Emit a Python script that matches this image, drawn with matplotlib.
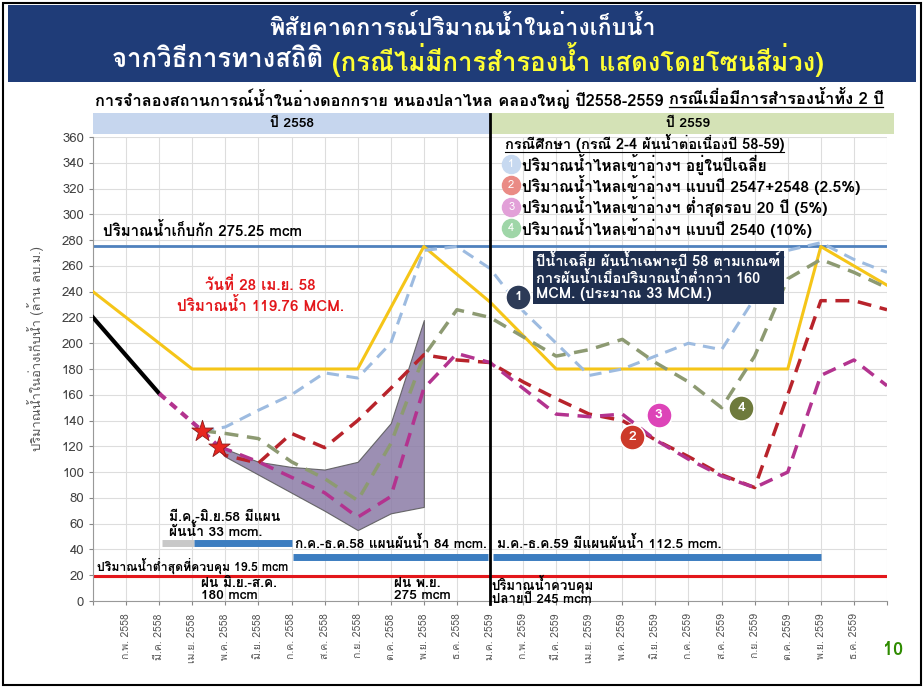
import matplotlib.pyplot as plt
from matplotlib import font_manager, ft2font
from matplotlib.patches import Rectangle
import numpy as np

# pick a font that has Thai glyphs, if any is installed
thai_font = None
for f in font_manager.fontManager.ttflist:
    try:
        if ft2font.FT2Font(f.fname).get_char_index(0x0E01):
            thai_font = f.name
            break
    except Exception:
        pass
fams = ([thai_font] if thai_font else []) + ['DejaVu Sans']
plt.rcParams['font.family'] = fams

# ---- data ----
months = ['ม.ค.', 'ก.พ.', 'มี.ค.', 'เม.ย.', 'พ.ค.', 'มิ.ย.', 'ก.ค.', 'ส.ค.', 'ก.ย.', 'ต.ค.', 'พ.ย.', 'ธ.ค.']
tick_labels = [''] + [m + ' 2558' for m in months[1:]] + [m + ' 2559' for m in months] + ['']

obs_x = [0, 2]
obs_y = [220, 161]
obs_dash_x = [2, 3.3, 3.8]
obs_dash_y = [161, 132, 119.76]

rule_x = [0, 3, 8, 10, 12, 14, 20, 21, 22, 24]
rule_y = [240, 180, 180, 275, 232, 180, 180, 180, 275, 245]

s1_x = [3.3, 4, 5, 6, 7, 8, 9, 10, 11, 12, 13, 14, 15, 16, 17, 18, 19, 20, 21, 22, 23, 24]
s1_y = [132, 135, 148, 160, 177, 173, 200, 272, 275, 258, 225, 200, 175, 180, 190, 200, 195, 235, 272, 278, 265, 255]

s2_x = [3.8, 4, 5, 6, 7, 8, 9, 10, 11, 12, 13, 14, 15, 16, 17, 18, 19, 20, 21, 22, 23, 24]
s2_y = [119.76, 113, 107, 130, 119, 140, 165, 191, 187, 185, 170, 157, 145, 140, 125, 112, 98, 88, 160, 233, 233, 226]

s3_x = [3.8, 4, 5, 6, 7, 8, 9, 10, 11, 12, 13, 14, 15, 16, 17, 18, 19, 20, 21, 22, 23, 24]
s3_y = [119.76, 118, 108, 96, 84, 65, 81, 165, 192, 185, 165, 145, 143, 145, 125, 110, 97, 88, 100, 175, 187, 167]

s4_x = [3.3, 4, 5, 6, 7, 8, 9, 10, 11, 12, 13, 14, 15, 16, 17, 18, 19, 20, 21, 22, 23, 24]
s4_y = [132, 130, 126, 108, 95, 78, 122, 190, 226, 220, 205, 190, 195, 203, 185, 170, 150, 190, 250, 265, 255, 243]

band_x = [3.8, 4, 5, 6, 7, 8, 9, 10]
band_hi = [120, 118, 108, 104, 102, 108, 138, 218]
band_lo = [120, 112, 98, 84, 70, 55, 68, 73]

star_x = [3.3, 3.8]
star_y = [132, 119.76]

storage_cap = 275.25
min_storage = 19.5

# release plans: (start, end, level)
plans = [(3.05, 6.0, 45), (6.05, 11.95, 34), (12.1, 22.0, 34)]
plan_gray = (2.1, 3.05, 45)

fig = plt.figure(figsize=(9.24, 6.88), dpi=100)
W, H = 924, 688

def fx(px):
    return px / W

def fy(py):
    return 1 - py / H

renderer = fig.canvas.get_renderer()

def centered_pair(y, left, right, c1, c2, size, cx=0.5, underline_right=False):
    # put two differently coloured texts side by side, centred together
    t1 = fig.text(0, y, left, color=c1, fontsize=size, fontweight='bold', ha='left', va='center')
    t2 = fig.text(0, y, right, color=c2, fontsize=size, fontweight='bold', ha='left', va='center')
    w1 = t1.get_window_extent(renderer).width / W
    w2 = t2.get_window_extent(renderer).width / W
    x0 = cx - (w1 + w2) / 2
    t1.set_x(x0)
    t2.set_x(x0 + w1)
    if underline_right:
        fig.lines.append(plt.Line2D([x0 + w1, x0 + w1 + w2], [y - 0.012, y - 0.012],
                                    transform=fig.transFigure, color='black', lw=0.9))

# slide border + title band
fig.patches.append(Rectangle((fx(3), fy(685)), fx(918), 682 / H, transform=fig.transFigure,
                             fill=False, ec='black', lw=1.5))
fig.patches.append(Rectangle((fx(8), fy(82)), fx(908), 77 / H, transform=fig.transFigure,
                             fc='#1f3c78', ec='none'))
fig.text(fx(462), fy(27), 'พิสัยคาดการณ์ปริมาณน้ำในอ่างเก็บน้ำ', color='white', fontsize=16.8,
         fontweight='bold', ha='center', va='center')
centered_pair(fy(60), 'จากวิธีการทางสถิติ ', '(กรณีไม่มีการสำรองน้ำ แสดงโดยโซนสีม่วง)',
              'white', '#ffff33', 18.5, cx=fx(468))
centered_pair(fy(99), 'การจำลองสถานการณ์น้ำในอ่างดอกกราย หนองปลาไหล คลองใหญ่ ปี2558-2559 ',
              'กรณีเมื่อมีการสำรองน้ำทั้ง 2 ปี', 'black', 'black', 11.8, cx=fx(489),
              underline_right=True)
fig.text(fx(893), fy(650), '10', color='#2e8b00', fontsize=13, fontweight='bold', ha='center', va='center')

ax = fig.add_axes([fx(93), fy(601), fx(887 - 93), (601 - 137) / H])
ax.set_xlim(0, 24)
ax.set_ylim(0, 360)
ax.set_yticks(np.arange(0, 361, 20))
ax.set_xticks(range(25))
ax.set_xticklabels(tick_labels, rotation=90, fontsize=7.5, color='#555555')
ax.tick_params(axis='y', labelsize=9.5, labelcolor='#404040', length=3, color='#888888')
ax.tick_params(axis='x', length=3, color='#888888', pad=6)
ax.grid(True, color='#dddddd', lw=0.8)
ax.set_axisbelow(True)
for s in ['top', 'right']:
    ax.spines[s].set_visible(False)
for s in ['left', 'bottom']:
    ax.spines[s].set_color('#999999')
ax.set_ylabel('ปริมาณน้ำในอ่างเก็บน้ำ (ล้าน ลบ.ม.)', fontsize=9.3, color='#555555')
ax.yaxis.set_label_coords(-0.062, 0.545)

# year header band
ax.add_patch(Rectangle((0, 362.5), 12, 16, fc='#c6d6ee', ec='none', clip_on=False))
ax.add_patch(Rectangle((12, 362.5), 12.2, 16, fc='#d4e2b6', ec='none', clip_on=False))
ax.text(6, 370.5, 'ปี 2558', ha='center', va='center', fontsize=10, fontweight='bold')
ax.text(18, 370.5, 'ปี 2559', ha='center', va='center', fontsize=10, fontweight='bold')

# reference lines
ax.axhline(storage_cap, color='#4f81bd', lw=2)
ax.axhline(min_storage - 1.2, color='#f2a900', lw=1.5)
ax.axhline(min_storage, color='#e3171b', lw=2.2)
ax.plot([12, 12], [-2, 378], color='black', lw=2, clip_on=False, zorder=6)

# purple range band
ax.fill_between(band_x, band_lo, band_hi, color='#8b7ca6', alpha=0.85, ec='#555555', lw=0.8, zorder=2)

# release plan bars
ax.hlines(plan_gray[2], plan_gray[0], plan_gray[1], color='#c8c8c8', lw=5)
for a, b, lev in plans:
    ax.hlines(lev, a, b, color='#3c7dc0', lw=5)

# scenario lines
ax.plot(rule_x, rule_y, color='#f5c518', lw=2.2, zorder=4)
ax.plot(s1_x, s1_y, color='#9dbbe0', lw=2.2, ls=(0, (4, 2.5)), zorder=4)
ax.plot(s4_x, s4_y, color='#8d9a72', lw=2.5, ls=(0, (4, 2.5)), zorder=4)
ax.plot(s2_x, s2_y, color='#b8232b', lw=2.5, ls=(0, (4, 2.5)), zorder=5)
ax.plot(s3_x, s3_y, color='#b3338f', lw=2.5, ls=(0, (4, 2.5)), zorder=5)
ax.plot(obs_x, obs_y, color='black', lw=3, zorder=6)
ax.plot(obs_dash_x, obs_dash_y, color='#b3338f', lw=3, ls=(0, (2, 1.5)), zorder=6)
ax.scatter(star_x, star_y, marker='*', s=260, color='#e8251e', ec='#8b1a1a', lw=0.6, zorder=7)

# annotations
ax.text(0.3, 281, 'ปริมาณน้ำเก็บกัก 275.25 mcm', fontsize=10.8, fontweight='bold', va='bottom')
ax.text(5.05, 237, 'วันที่ 28 เม.ย. 58\nปริมาณน้ำ 119.76 MCM.', color='#e3171b', fontsize=11,
        fontweight='bold', ha='center', va='center', linespacing=1.25)
ax.text(13.4, 251, 'ปีน้ำเฉลี่ย ผันน้ำเฉพาะปี 58 ตามเกณฑ์\nการผันน้ำเมื่อปริมาณน้ำต่ำกว่า 160\nMCM. (ประมาณ 33 MCM.)',
        color='white', fontsize=10.5, fontweight='bold', va='center', linespacing=1.1,
        bbox=dict(boxstyle='square,pad=0.25', fc='#1f2f4f', ec='none'), zorder=8)

circles = [('1', 12.85, 236, '#2d3b57'), ('2', 16.3, 127, '#cc3a2a'),
           ('3', 17.1, 144, '#dd44b8'), ('4', 19.6, 150, '#6e7a3c')]
for lab, cx, cy, col in circles:
    ax.scatter([cx], [cy], s=330, color=col, ec='white', lw=1.2, zorder=9)
    ax.text(cx, cy, lab, color='white', fontsize=10, fontweight='bold', ha='center', va='center', zorder=10)

# legend block
t = ax.text(12.45, 355, 'กรณีศึกษา (กรณี 2-4 ผันน้ำต่อเนื่องปี 58-59)', fontsize=10.5, fontweight='bold', va='center')
tw = t.get_window_extent(renderer).width / 33.08
ax.plot([12.45, 12.45 + tw], [348, 348], color='black', lw=0.8)
leg_items = [('1', 'ปริมาณน้ำไหลเข้าอ่างฯ อยู่ในปีเฉลี่ย', '#c7d9f0'),
             ('2', 'ปริมาณน้ำไหลเข้าอ่างฯ แบบปี 2547+2548 (2.5%)', '#ea8b85'),
             ('3', 'ปริมาณน้ำไหลเข้าอ่างฯ ต่ำสุดรอบ 20 ปี (5%)', '#e2a0d8'),
             ('4', 'ปริมาณน้ำไหลเข้าอ่างฯ แบบปี 2540 (10%)', '#9fd6a8')]
for k, (lab, txt, col) in enumerate(leg_items):
    yy = 339 - k * 16.5
    ax.scatter([12.64], [yy], s=170, color=col, zorder=8)
    ax.text(12.64, yy, lab, color='white', fontsize=8, ha='center', va='center', zorder=9)
    ax.text(12.97, yy, txt, fontsize=11.2, fontweight='bold', va='center')

ax.text(2.3, 59, 'มี.ค.-มิ.ย.58 มีแผน\nผันน้ำ 33 mcm.', fontsize=10, fontweight='bold', va='center',
        linespacing=1.0)
ax.text(6.1, 45, 'ก.ค.-ธ.ค.58 แผนผันน้ำ 84 mcm.', fontsize=9.8, fontweight='bold', va='center')
ax.text(12.2, 45, 'ม.ค.-ธ.ค.59 มีแผนผันน้ำ 112.5 mcm.', fontsize=10, fontweight='bold', va='center')
ax.text(0.12, 27, 'ปริมาณน้ำต่ำสุดที่ควบคุม 19.5 mcm', fontsize=8.8, fontweight='bold', va='center')
ax.text(3.25, 8.5, 'ฝน มิ.ย.-ส.ค.\n180 mcm', fontsize=9.8, fontweight='bold', va='center', linespacing=1.0)
ax.text(9.1, 8.5, 'ฝน พ.ย.\n275 mcm', fontsize=9.8, fontweight='bold', va='center', linespacing=1.0)
ax.text(12.05, 8.5, 'ปริมาณน้ำควบคุม\nปลายปี 245 mcm', fontsize=9.5, fontweight='bold', va='center',
        linespacing=1.0)

fig.savefig('out.png', dpi=100)
